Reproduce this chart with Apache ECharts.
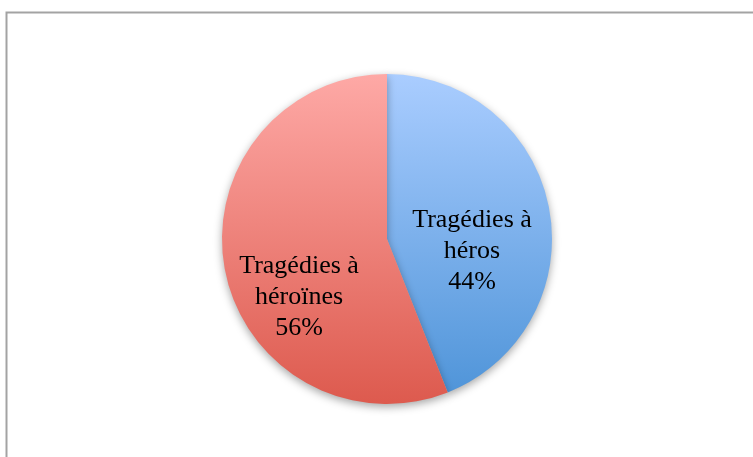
<!DOCTYPE html>
<html>
<head>
<meta charset="utf-8">
<script src="https://cdn.jsdelivr.net/npm/echarts@6/dist/echarts.min.js"></script>
<style>
  html, body { margin: 0; padding: 0; background: #fff; }
  #chart { width: 753px; height: 457px; }
</style>
</head>
<body>
<div id="chart"></div>
<script>
// données
var names = ['Tragédies à héros', 'Tragédies à héroïnes'];
var values = [44, 56];
var topColors = ['#aacdff', '#fea9a6'];
var bottomColors = ['#5095d9', '#dd5a4e'];
// décalage des étiquettes (Excel les place plus bas)
var labelShift = [[1, 28], [-4, 42]];

var chart = echarts.init(document.getElementById('chart'));

var data = names.map(function (n, i) {
  return {
    name: n,
    value: values[i],
    itemStyle: {
      color: new echarts.graphic.LinearGradient(0, 0, 0, 1, [
        { offset: 0, color: topColors[i] },
        { offset: 1, color: bottomColors[i] }
      ])
    }
  };
});

var option = {
  backgroundColor: '#fff',
  animation: false,
  graphic: [{
    type: 'rect',
    shape: { x: 6.5, y: 12.5, width: 800, height: 500 },
    style: { fill: 'none', stroke: '#a3a3a3', lineWidth: 2 },
    silent: true
  }],
  series: [{
    type: 'pie',
    center: [387, 239],
    radius: [0, 165],
    startAngle: 90,
    clockwise: true,
    data: data,
    itemStyle: {
      shadowBlur: 8,
      shadowOffsetY: 3,
      shadowColor: 'rgba(0,0,0,0.35)'
    },
    label: {
      position: 'inside',
      color: '#000',
      fontFamily: 'Liberation Serif',
      fontSize: 26,
      lineHeight: 31,
      align: 'center',
      formatter: function (p) {
        return p.name.replace('à ', 'à\n') + '\n' + Math.round(p.percent) + '%';
      }
    },
    labelLayout: function (p) {
      return { dx: labelShift[p.dataIndex][0], dy: labelShift[p.dataIndex][1] };
    },
    labelLine: { show: false },
    emphasis: { disabled: true }
  }]
};

chart.setOption(option);
</script>
</body>
</html>
